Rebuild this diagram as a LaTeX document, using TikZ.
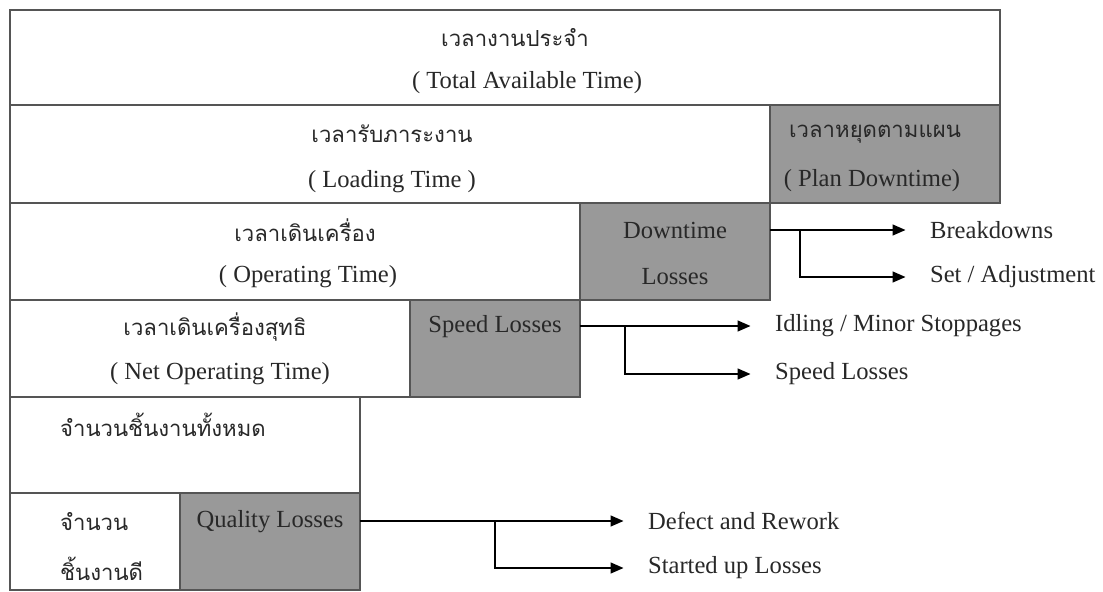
\documentclass[tikz,border=0pt]{standalone}
\usepackage{fontspec}
\setmainfont{Liberation Serif}
\newfontfamily\thai[Script=Thai,Scale=0.9]{Loma}
\usepackage{tikz}
\usetikzlibrary{arrows.meta,positioning}

\definecolor{boxgray}{RGB}{153,153,153}
\definecolor{linegray}{RGB}{85,85,85}
\definecolor{txt}{RGB}{40,40,40}

\begin{document}
\begin{tikzpicture}[
    x=0.02cm, y=-0.02cm,
    font=\fontsize{14}{16}\selectfont,
    text=txt,
    whitebox/.style={draw=linegray, fill=white, line width=0.8pt, anchor=north west, inner sep=0pt, outer sep=0pt},
    graybox/.style={whitebox, fill=boxgray},
    lbl/.style={inner sep=1pt},
    item/.style={lbl, anchor=west},
    arr/.style={-{Triangle[length=2.6mm,width=2.2mm]}, line width=0.8pt, draw=black, shorten >=4.5mm}
]
\useasboundingbox (0,0) rectangle (1103,592);

% time rows
\node[whitebox, minimum width=19.8cm, minimum height=1.9cm] (tat) at (10,10) {};
\node[whitebox, minimum width=15.2cm, minimum height=1.96cm] (ldt) at (tat.south west) {};
\node[graybox, minimum width=4.6cm, minimum height=1.96cm] (pdt) at (ldt.north east) {};
\node[whitebox, minimum width=11.4cm, minimum height=1.94cm] (opt) at (ldt.south west) {};
\node[graybox, minimum width=3.8cm, minimum height=1.94cm] (dtl) at (opt.north east) {};
\node[whitebox, minimum width=8.0cm, minimum height=1.94cm] (nop) at (opt.south west) {};
\node[graybox, minimum width=3.4cm, minimum height=1.94cm] (spl) at (nop.north east) {};
\node[whitebox, minimum width=7.0cm, minimum height=1.92cm] (tot) at (nop.south west) {};
\node[whitebox, minimum width=3.4cm, minimum height=1.94cm] (good) at (tot.south west) {};
\node[graybox, minimum width=3.6cm, minimum height=1.94cm] (qls) at (good.north east) {};

% labels in boxes
\node[lbl] (tatth) at (515,38) {\thai เวลางานประจำ};
\node[lbl] (taten) at (527,83) {( Total Available Time)};
\node[lbl] (ldtth) at (392,134) {\thai เวลารับภาระงาน};
\node[lbl] (ldten) at (392,182) {( Loading Time )};
\node[lbl] (pdtth) at (875,134) {\thai เวลาหยุดตามแผน};
\node[lbl] (pdten) at (872,181) {( Plan Downtime)};
\node[lbl] (optth) at (305,230) {\thai เวลาเดินเครื่อง};
\node[lbl] (opten) at (308,277) {( Operating Time)};
\node[lbl] (dtlup) at (675,230) {Downtime};
\node[lbl] (dtldn) at (675,277) {Losses};
\node[lbl] (nopth) at (215,327) {\thai เวลาเดินเครื่องสุทธิ};
\node[lbl] (nopen) at (220,374) {( Net Operating Time)};
\node[lbl] (splup) at (495,327) {Speed Losses};
\node[lbl, anchor=west] (totth) at (58,425) {\thai จำนวนชิ้นงานทั้งหมด};
\node[lbl, anchor=west] (goodup) at (58,522) {\thai จำนวน};
\node[lbl, anchor=west] (gooddn) at (58,569) {\thai ชิ้นงานดี};
\node[lbl] (qlsup) at (270,522) {Quality Losses};

% loss items
\node[item] (brk) at (928,230) {Breakdowns};
\node[item] (adj) at (928,277) {Set / Adjustment};
\node[item] (idl) at (773,326) {Idling / Minor Stoppages};
\node[item] (spd) at (773,374) {Speed Losses};
\node[item] (dfr) at (646,521) {Defect and Rework};
\node[item] (stl) at (646,568) {Started up Losses};

\coordinate (dtlsplit) at (800,230);
\coordinate (splsplit) at (625,326);
\coordinate (qlssplit) at (495,521);

\draw[arr] (dtl.east |- brk) -- (brk.west);
\draw[arr] (dtlsplit) |- (adj.west);
\draw[arr] (spl.east |- idl) -- (idl.west);
\draw[arr] (splsplit) |- (spd.west);
\draw[arr] (qls.east |- dfr) -- (dfr.west);
\draw[arr] (qlssplit) |- (stl.west);
\end{tikzpicture}
\end{document}
